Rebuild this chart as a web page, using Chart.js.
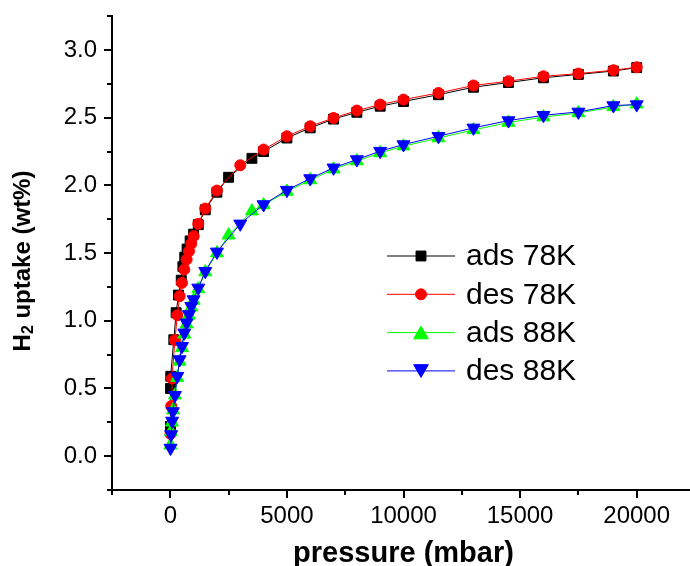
<!DOCTYPE html>
<html>
<head>
<meta charset="utf-8">
<script src="https://cdn.jsdelivr.net/npm/chart.js@4.4.1/dist/chart.umd.min.js"></script>
<style>
  html, body { margin: 0; padding: 0; background: #fff; overflow: hidden; }
  #wrap { width: 690px; height: 566px; overflow: hidden; }
  canvas { display: block; }
</style>
</head>
<body>
<div id="wrap"><canvas id="uptake" width="707" height="580" style="width:707px;height:580px"></canvas></div>
<script>
  // pressure in mbar, H2 uptake in wt%
  const ads78Pressure = [5, 10, 20, 150, 250, 350, 470, 540, 620, 720, 850, 1000, 1200, 1500, 2000, 2500, 3500, 4000, 5000, 6000, 7000, 8000, 9000, 10000, 11500, 13000, 14500, 16000, 17500, 19000, 20000];
  const ads78Uptake = [0.22, 0.50, 0.59, 0.86, 1.06, 1.19, 1.30, 1.40, 1.47, 1.53, 1.59, 1.64, 1.71, 1.82, 1.95, 2.06, 2.20, 2.25, 2.35, 2.425, 2.49, 2.54, 2.585, 2.62, 2.67, 2.725, 2.76, 2.795, 2.82, 2.845, 2.87];

  const des78Pressure = [10, 40, 70, 200, 300, 400, 500, 600, 700, 800, 900, 1000, 1200, 1500, 2000, 3000, 4000, 5000, 6000, 7000, 8000, 9000, 10000, 11500, 13000, 14500, 16000, 17500, 19000, 20000];
  const des78Uptake = [0.165, 0.37, 0.574, 0.857, 1.041, 1.182, 1.28, 1.379, 1.453, 1.514, 1.57, 1.625, 1.716, 1.829, 1.962, 2.149, 2.265, 2.363, 2.437, 2.498, 2.553, 2.597, 2.634, 2.683, 2.738, 2.77, 2.806, 2.826, 2.851, 2.873];

  const ads88Pressure = [5, 30, 70, 120, 200, 300, 400, 500, 600, 700, 800, 900, 1000, 1200, 1500, 2000, 2500, 3500, 4000, 5000, 6000, 7000, 8000, 9000, 10000, 11500, 13000, 14500, 16000, 17500, 19000, 20000];
  const ads88Uptake = [0.08, 0.18, 0.25, 0.34, 0.45, 0.58, 0.70, 0.80, 0.90, 0.975, 1.04, 1.10, 1.15, 1.235, 1.36, 1.50, 1.632, 1.81, 1.855, 1.955, 2.04, 2.12, 2.18, 2.24, 2.29, 2.35, 2.41, 2.465, 2.505, 2.535, 2.58, 2.60];

  const des88Pressure = [10, 35, 80, 110, 200, 300, 400, 500, 600, 700, 800, 900, 1000, 1200, 1500, 2000, 3000, 4000, 5000, 6000, 7000, 8000, 9000, 10000, 11500, 13000, 14500, 16000, 17500, 19000, 20000];
  const des88Uptake = [0.06, 0.16, 0.26, 0.33, 0.45, 0.591, 0.714, 0.812, 0.911, 0.985, 1.047, 1.108, 1.157, 1.243, 1.366, 1.509, 1.716, 1.859, 1.965, 2.051, 2.13, 2.191, 2.253, 2.302, 2.363, 2.425, 2.479, 2.518, 2.543, 2.59, 2.597];

  const seriesNames = ["ads 78K", "des 78K", "ads 88K", "des 88K"];
  const xTickLabels = [0, 5000, 10000, 15000, 20000];
  const yTickLabels = [0.0, 0.5, 1.0, 1.5, 2.0, 2.5, 3.0];

  const FONT = "'Liberation Sans', Arial, sans-serif";

  function toPoints(pressure, uptake) {
    return pressure.map((p, i) => ({ x: p, y: uptake[i] }));
  }

  function isLabelled(list, v) {
    return list.some((t) => Math.abs(t - v) < 1e-6);
  }

  function series(name, points, color, style, radius, rotation, order) {
    return {
      label: name,
      data: points,
      showLine: true,
      borderColor: color,
      backgroundColor: color,
      borderWidth: 1,
      pointStyle: style,
      pointRadius: radius,
      pointRotation: rotation,
      pointBorderWidth: 1,
      tension: 0,
      order: order,
    };
  }

  // outward tick marks, long for labelled ticks and short for minor ones
  const tickMarks = {
    id: "tickMarks",
    afterDraw(chart) {
      const { ctx, chartArea, scales } = chart;
      ctx.save();
      ctx.strokeStyle = "#000";
      ctx.lineWidth = 2;
      scales.x.ticks.forEach((t) => {
        const px = Math.round(scales.x.getPixelForValue(t.value));
        const len = isLabelled(xTickLabels, t.value) ? 8 : 5;
        ctx.beginPath();
        ctx.moveTo(px, chartArea.bottom);
        ctx.lineTo(px, chartArea.bottom + len);
        ctx.stroke();
      });
      scales.y.ticks.forEach((t) => {
        const py = Math.round(scales.y.getPixelForValue(t.value));
        const len = isLabelled(yTickLabels, t.value) ? 8 : 5;
        ctx.beginPath();
        ctx.moveTo(chartArea.left, py);
        ctx.lineTo(chartArea.left - len, py);
        ctx.stroke();
      });
      ctx.restore();
    },
  };

  // y title with a real subscript 2
  const yTitle = {
    id: "yTitle",
    afterDraw(chart) {
      const { ctx } = chart;
      const parts = [
        { text: "H", size: 24, dy: 0 },
        { text: "2", size: 16, dy: 6 },
        { text: " uptake (wt%)", size: 24, dy: 0 },
      ];
      ctx.save();
      ctx.translate(23, 261);
      ctx.rotate(-Math.PI / 2);
      ctx.fillStyle = "#000";
      ctx.textBaseline = "middle";
      ctx.textAlign = "left";
      let total = 0;
      parts.forEach((p) => {
        ctx.font = "bold " + p.size + "px " + FONT;
        p.w = ctx.measureText(p.text).width;
        total += p.w;
      });
      let x = -total / 2;
      parts.forEach((p) => {
        ctx.font = "bold " + p.size + "px " + FONT;
        ctx.fillText(p.text, x, p.dy);
        x += p.w;
      });
      ctx.restore();
    },
  };

  // legend in the Origin style: short line with the marker on it
  const lineLegend = {
    id: "lineLegend",
    afterDatasetsDraw(chart) {
      const { ctx } = chart;
      const x0 = 387, x1 = 455, top = 256, gap = 38.3;
      ctx.save();
      chart.data.datasets.forEach((ds, i) => {
        const y = top + i * gap;
        ctx.strokeStyle = ds.borderColor;
        ctx.fillStyle = ds.backgroundColor;
        ctx.lineWidth = 1;
        ctx.beginPath();
        ctx.moveTo(x0, y);
        ctx.lineTo(x1, y);
        ctx.stroke();
        Chart.helpers.drawPoint(ctx, {
          pointStyle: ds.pointStyle,
          radius: ds.pointStyle === "triangle" ? 8.5 : ds.pointRadius,
          rotation: ds.pointRotation,
          borderWidth: 1,
        }, (x0 + x1) / 2, ds.pointStyle === "triangle" ? y + (ds.pointRotation ? -2 : 2) : y);
        ctx.fillStyle = "#000";
        ctx.font = "30px " + FONT;
        ctx.textBaseline = "middle";
        ctx.textAlign = "left";
        ctx.fillText(ds.label, 466, y + 1);
      });
      ctx.restore();
    },
  };

  const ctx = document.getElementById("uptake").getContext("2d");
  new Chart(ctx, {
    type: "scatter",
    data: {
      datasets: [
        series(seriesNames[0], toPoints(ads78Pressure, ads78Uptake), "#000000", "rect", 7, 0, 4),
        series(seriesNames[1], toPoints(des78Pressure, des78Uptake), "#ff0000", "circle", 5.5, 0, 3),
        series(seriesNames[2], toPoints(ads88Pressure, ads88Uptake), "#00ff00", "triangle", 7.5, 0, 2),
        series(seriesNames[3], toPoints(des88Pressure, des88Uptake), "#0000ff", "triangle", 7.5, 180, 1),
      ],
    },
    options: {
      responsive: false,
      animation: false,
      devicePixelRatio: 1,
      layout: { padding: { top: 15, right: 0, left: 0, bottom: 0 } },
      plugins: {
        legend: { display: false },
        tooltip: { enabled: false },
      },
      scales: {
        x: {
          type: "linear",
          min: -2500,
          max: 22500,
          afterFit: (scale) => { scale.height = 90; },
          grid: { display: false, drawTicks: false },
          border: { display: true, color: "#000", width: 2 },
          ticks: {
            stepSize: 2500,
            autoSkip: false,
            maxRotation: 0,
            padding: 12,
            color: "#000",
            font: { family: FONT, size: 24 },
            callback: (v) => (isLabelled(xTickLabels, v) ? String(v) : ""),
          },
          title: {
            display: true,
            text: "pressure (mbar)",
            color: "#000",
            font: { family: FONT, size: 29, weight: "bold" },
            padding: { top: 0, bottom: 9 },
          },
        },
        y: {
          type: "linear",
          min: -0.25,
          max: 3.25,
          afterFit: (scale) => { scale.width = 112; },
          grid: { display: false, drawTicks: false },
          border: { display: true, color: "#000", width: 2 },
          ticks: {
            stepSize: 0.25,
            autoSkip: false,
            padding: 15,
            color: "#000",
            font: { family: FONT, size: 24, lineHeight: 0.1 },
            callback: (v) => (isLabelled(yTickLabels, v) ? v.toFixed(1) : ""),
          },
        },
      },
    },
    plugins: [tickMarks, yTitle, lineLegend],
  });
</script>
</body>
</html>
